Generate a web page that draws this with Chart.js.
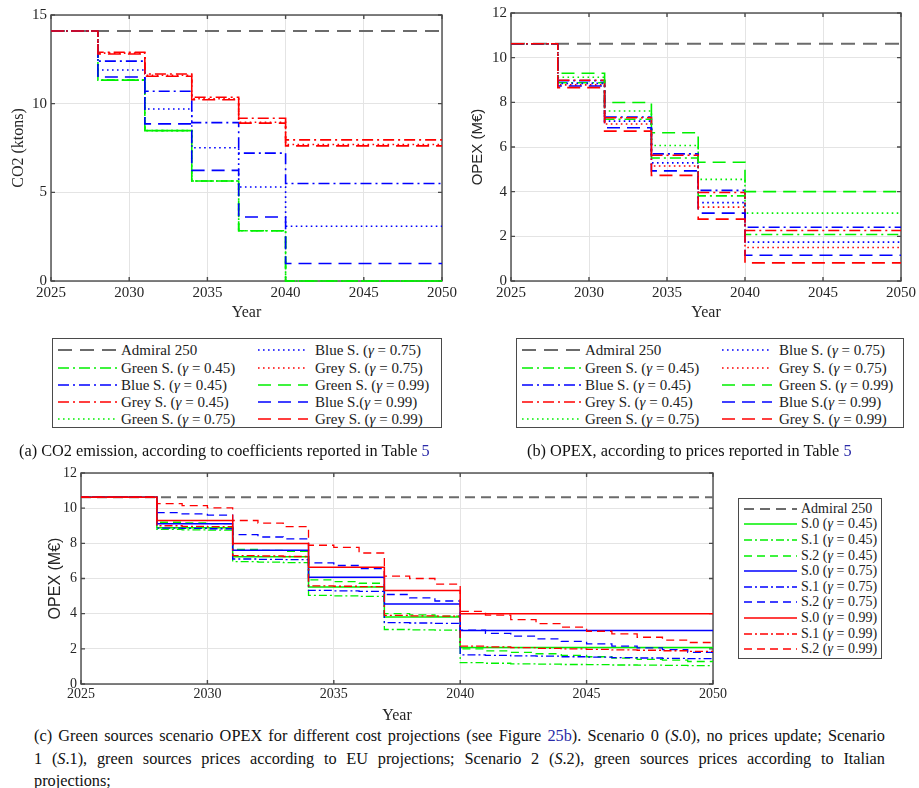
<!DOCTYPE html>
<html><head><meta charset="utf-8">
<script src="https://cdn.jsdelivr.net/npm/chart.js@4.4.0/dist/chart.umd.min.js"></script>
<style>
body{margin:0;background:#fff;width:919px;height:788px;position:relative;overflow:hidden;font-family:"Liberation Serif",serif;color:#111;}
canvas{position:absolute;}
.legend{position:absolute;border:1.3px solid #4a4a4a;background:#fff;box-sizing:border-box;}
.li{position:absolute;font-size:15px;white-space:nowrap;line-height:16px;height:16px;color:#222;}
.sw{position:absolute;}
.cap{position:absolute;font-size:16.3px;white-space:nowrap;color:#111;}
.ref{color:#2a2aa8}
.capl{position:absolute;left:34px;width:851px;font-size:16.3px;text-align:justify;text-align-last:justify;white-space:nowrap;color:#111;}
</style></head>
<body>
<canvas id="ca" width="460" height="322" style="left:0;top:0"></canvas>
<canvas id="cb" width="459" height="322" style="left:460px;top:0"></canvas>
<canvas id="cc" width="730" height="270" style="left:0;top:455px"></canvas>
<div class="cap" style="left:19px;top:441px">(a) CO2 emission, according to coefficients reported in Table <span class="ref">5</span></div>
<div class="cap" style="left:527px;top:441px">(b) OPEX, according to prices reported in Table <span class="ref">5</span></div>
<div class="capl" style="top:726px">(c) Green sources scenario OPEX for different cost projections (see Figure <span class="ref">25b</span>). Scenario 0 (<i>S</i>.0), no prices update; Scenario</div>
<div class="capl" style="top:749px">1 (<i>S</i>.1), green sources prices according to EU projections; Scenario 2 (<i>S</i>.2), green sources prices according to Italian</div>
<div class="cap" style="left:34px;top:771px">projections;</div>
<script>
// ---------- DATA ----------
const stepYears = [2025, 2028, 2031, 2034, 2037, 2040, 2050];
const years = [2025,2026,2027,2028,2029,2030,2031,2032,2033,2034,2035,2036,2037,2038,2039,2040,2041,2042,2043,2044,2045,2046,2047,2048,2049,2050];
const xTickLabels = ['2025','2030','2035','2040','2045','2050'];

// (a) CO2 (ktons)
const co2Admiral = [14.1, 14.1, 14.1, 14.1, 14.1, 14.1, 14.1];
const co2Green45 = [14.1, 11.33, 8.48, 5.64, 2.83, 0, 0];
const co2Blue45  = [14.1, 12.4, 10.7, 8.93, 7.21, 5.5, 5.5];
const co2Grey45  = [14.1, 12.9, 11.67, 10.36, 9.18, 7.96, 7.96];
const co2Green75 = [14.1, 11.33, 8.48, 5.64, 2.83, 0, 0];
const co2Blue75  = [14.1, 11.9, 9.7, 7.51, 5.3, 3.09, 3.09];
const co2Grey75  = [14.1, 12.85, 11.6, 10.28, 8.95, 7.7, 7.7];
const co2Green99 = [14.1, 11.33, 8.48, 5.64, 2.83, 0, 0];
const co2Blue99  = [14.1, 11.5, 8.86, 6.24, 3.61, 0.99, 0.99];
const co2Grey99  = [14.1, 12.8, 11.55, 10.22, 8.9, 7.62, 7.62];

// (b) OPEX (M€)
const opexAdmiral = [10.62, 10.62, 10.62, 10.62, 10.62, 10.62, 10.62];
const opexGreen45 = [10.62, 8.88, 7.24, 5.51, 3.81, 2.08, 2.08];
const opexBlue45  = [10.62, 8.97, 7.34, 5.69, 4.06, 2.41, 2.41];
const opexGrey45  = [10.62, 8.99, 7.31, 5.63, 3.96, 2.26, 2.26];
const opexGreen75 = [10.62, 9.12, 7.61, 6.07, 4.55, 3.04, 3.04];
const opexBlue75  = [10.62, 8.85, 7.16, 5.29, 3.51, 1.74, 1.74];
const opexGrey75  = [10.62, 8.78, 7.03, 5.15, 3.31, 1.5, 1.5];
const opexGreen99 = [10.62, 9.3, 7.99, 6.64, 5.32, 4.0, 4.0];
const opexBlue99  = [10.62, 8.73, 6.86, 4.93, 3.04, 1.15, 1.15];
const opexGrey99  = [10.62, 8.66, 6.71, 4.73, 2.77, 0.81, 0.81];

// (c) green sources scenarios, yearly values
const s1g45 = [10.62,10.62,10.62,8.79,8.77,8.75,6.96,6.93,6.9,5.04,5.01,4.98,3.1,3.08,3.06,1.21,1.18,1.15,1.13,1.11,1.1,1.08,1.07,1.06,1.05,1.05];
const s2g45 = [10.62,10.62,10.62,9.2,9.16,9.12,7.66,7.6,7.55,5.92,5.82,5.73,4.0,3.93,3.86,2.0,1.88,1.8,1.72,1.63,1.55,1.47,1.4,1.36,1.28,1.28];
const s1g75 = [10.62,10.62,10.62,8.87,8.85,8.83,7.11,7.09,7.07,5.32,5.3,5.27,3.49,3.47,3.45,1.66,1.63,1.6,1.58,1.55,1.53,1.5,1.48,1.46,1.44,1.44];
const s2g75 = [10.62,10.62,10.62,9.75,9.68,9.6,8.49,8.36,8.25,6.89,6.74,6.57,5.09,4.9,4.72,3.06,2.88,2.72,2.57,2.42,2.28,2.15,2.05,1.95,1.8,1.8];
const s1g99 = [10.62,10.62,10.62,9.0,8.97,8.95,7.3,7.28,7.25,5.58,5.56,5.54,3.9,3.88,3.86,2.15,2.11,2.07,2.03,2.0,1.97,1.94,1.92,1.89,1.86,1.86];
const s2g99 = [10.62,10.62,10.62,10.26,10.15,10.02,9.3,9.15,8.95,7.89,7.77,7.45,6.13,6.0,5.68,4.13,3.92,3.66,3.43,3.23,3.0,2.85,2.66,2.5,2.36,2.36];

// ---------- STYLES ----------
const GREEN = '#00f000', BLUE = '#0000ff', RED = '#ff0000', GRAY = '#6b6b6b';
const DASH = [13, 7], DASHDOT = [11, 4, 2, 4], DOT = [1.6, 3.4], ADM = [14, 8];
const DASH_C = [8, 5], DASHDOT_C = [8, 3, 2, 3], ADM_C = [10, 6];

function ds(label, xs, ys, color, dash, width) {
  return { label, data: xs.map((x, i) => ({ x, y: ys[i] })), borderColor: color, borderDash: dash,
    borderWidth: width, stepped: true, pointRadius: 0, fill: false, clip: 4, borderCapStyle: 'butt' };
}

const framePlugin = {
  id: 'frame',
  beforeDatasetsDraw(chart) {
    const { ctx, chartArea: a, scales } = chart;
    ctx.save();
    ctx.strokeStyle = '#4a4a4a'; ctx.lineWidth = 1.4; ctx.setLineDash([]);
    ctx.strokeRect(a.left, a.top, a.right - a.left, a.bottom - a.top);
    ctx.beginPath();
    scales.x.ticks.forEach(t => { const p = scales.x.getPixelForValue(t.value);
      ctx.moveTo(p, a.bottom); ctx.lineTo(p, a.bottom - 4); ctx.moveTo(p, a.top); ctx.lineTo(p, a.top + 4); });
    scales.y.ticks.forEach(t => { const p = scales.y.getPixelForValue(t.value);
      ctx.moveTo(a.left, p); ctx.lineTo(a.left + 4, p); ctx.moveTo(a.right, p); ctx.lineTo(a.right - 4, p); });
    ctx.stroke(); ctx.restore();
  }
};

function makeChart(id, datasets, o) {
  datasets.forEach((d, i) => d.order = -i);
  return new Chart(document.getElementById(id), {
    type: 'line',
    data: { datasets },
    plugins: [framePlugin],
    options: {
      responsive: false, animation: false, devicePixelRatio: 1,
      layout: { padding: { left: 0, right: o.padR, top: o.padT, bottom: 0 } },
      plugins: { legend: { display: false }, tooltip: { enabled: false } },
      scales: {
        x: { type: 'linear', min: 2025, max: 2050,
          afterFit: s => { s.height = o.xH; },
          afterBuildTicks: s => { s.ticks = xTickLabels.map(v => ({ value: Number(v) })); },
          ticks: { autoSkip: false, maxRotation: 0, padding: o.xTickPad, color: '#262626',
            font: { family: 'Liberation Serif', size: o.tickSize }, callback: v => String(v) },
          grid: { color: '#e4e4e4', lineWidth: 1, drawTicks: false },
          border: { display: false },
          title: { display: true, text: 'Year', color: '#262626', font: { family: 'Liberation Serif', size: 16 },
            padding: { top: o.xTitlePad, bottom: 0 } } },
        y: { min: 0, max: o.yMax,
          afterFit: s => { s.width = o.yW; },
          ticks: { stepSize: o.yStep, padding: 4, color: '#262626',
            font: { family: 'Liberation Serif', size: o.tickSize }, callback: v => String(v) },
          grid: { color: '#e4e4e4', lineWidth: 1, drawTicks: false },
          border: { display: false },
          title: { display: true, text: o.yTitle, color: '#262626', font: o.yTitleFont,
            padding: { top: o.yTitlePad, bottom: 0 } } }
      }
    }
  });
}

// ---------- CHART (a) ----------
const dsA = [
  ds('Admiral 250', stepYears, co2Admiral, GRAY, ADM, 2),
  ds('Green S. (γ = 0.45)', stepYears, co2Green45, GREEN, DASHDOT, 1.6),
  ds('Blue S. (γ = 0.45)', stepYears, co2Blue45, BLUE, DASHDOT, 1.6),
  ds('Grey S. (γ = 0.45)', stepYears, co2Grey45, RED, DASHDOT, 1.6),
  ds('Green S. (γ = 0.75)', stepYears, co2Green75, GREEN, DOT, 1.6),
  ds('Blue S. (γ = 0.75)', stepYears, co2Blue75, BLUE, DOT, 1.6),
  ds('Grey S. (γ = 0.75)', stepYears, co2Grey75, RED, DOT, 1.6),
  ds('Green S. (γ = 0.99)', stepYears, co2Green99, GREEN, DASH, 1.6),
  ds('Blue S.(γ = 0.99)', stepYears, co2Blue99, BLUE, DASH, 1.6),
  ds('Grey S. (γ = 0.99)', stepYears, co2Grey99, RED, DASH, 1.6)
];
makeChart('ca', dsA, { padR: 18, padT: 15, xH: 41, yW: 51, yMax: 15, yStep: 5, tickSize: 15, xTickPad: 3, xTitlePad: 1,
  yTitle: 'CO2 (ktons)', yTitleFont: { family: 'Liberation Serif', size: 16 }, yTitlePad: 9 });

// ---------- CHART (b) ----------
const dsB = [
  ds('Admiral 250', stepYears, opexAdmiral, GRAY, ADM, 2),
  ds('Green S. (γ = 0.45)', stepYears, opexGreen45, GREEN, DASHDOT, 1.6),
  ds('Blue S. (γ = 0.45)', stepYears, opexBlue45, BLUE, DASHDOT, 1.6),
  ds('Grey S. (γ = 0.45)', stepYears, opexGrey45, RED, DASHDOT, 1.6),
  ds('Green S. (γ = 0.75)', stepYears, opexGreen75, GREEN, DOT, 1.6),
  ds('Blue S. (γ = 0.75)', stepYears, opexBlue75, BLUE, DOT, 1.6),
  ds('Grey S. (γ = 0.75)', stepYears, opexGrey75, RED, DOT, 1.6),
  ds('Green S. (γ = 0.99)', stepYears, opexGreen99, GREEN, DASH, 1.6),
  ds('Blue S.(γ = 0.99)', stepYears, opexBlue99, BLUE, DASH, 1.6),
  ds('Grey S. (γ = 0.99)', stepYears, opexGrey99, RED, DASH, 1.6)
];
makeChart('cb', dsB, { padR: 15, padT: 13, xH: 41, yW: 51, yMax: 12, yStep: 2, tickSize: 15, xTickPad: 3, xTitlePad: 1,
  yTitle: 'OPEX (M€)', yTitleFont: { family: 'Liberation Sans', size: 15 }, yTitlePad: 9 });

// ---------- CHART (c) ----------
const dsC = [
  ds('Admiral 250', stepYears, opexAdmiral, GRAY, ADM_C, 1.8),
  ds('S.0 (γ = 0.45)', stepYears, opexGreen45, GREEN, [], 1.5),
  ds('S.1 (γ = 0.45)', years, s1g45, GREEN, DASHDOT_C, 1.3),
  ds('S.2 (γ = 0.45)', years, s2g45, GREEN, DASH_C, 1.3),
  ds('S.0 (γ = 0.75)', stepYears, opexGreen75, BLUE, [], 1.5),
  ds('S.1 (γ = 0.75)', years, s1g75, BLUE, DASHDOT_C, 1.3),
  ds('S.2 (γ = 0.75)', years, s2g75, BLUE, DASH_C, 1.3),
  ds('S.0 (γ = 0.99)', stepYears, opexGreen99, RED, [], 1.5),
  ds('S.1 (γ = 0.99)', years, s1g99, RED, DASHDOT_C, 1.3),
  ds('S.2 (γ = 0.99)', years, s2g99, RED, DASH_C, 1.3)
];
makeChart('cc', dsC, { padR: 17, padT: 18, xH: 41, yW: 81, yMax: 12, yStep: 2, tickSize: 14, xTickPad: 2, xTitlePad: 3,
  yTitle: 'OPEX (M€)', yTitleFont: { family: 'Liberation Sans', size: 16 }, yTitlePad: 46 });

// ---------- LEGENDS (built from the dataset styles) ----------
function fmt(label) { return label.replace('γ', '<i>γ</i>'); }
function legend(box, dsets, place) {
  const div = document.createElement('div');
  div.className = 'legend';
  Object.assign(div.style, { left: box.left + 'px', top: box.top + 'px', width: box.w + 'px', height: box.h + 'px' });
  dsets.forEach((d, i) => {
    const p = place(i);
    const sw = document.createElementNS('http://www.w3.org/2000/svg', 'svg');
    sw.setAttribute('class', 'sw'); sw.setAttribute('width', p.len); sw.setAttribute('height', 6);
    sw.style.left = p.s + 'px'; sw.style.top = (p.y - 3) + 'px';
    const ln = document.createElementNS('http://www.w3.org/2000/svg', 'line');
    ln.setAttribute('x1', 0); ln.setAttribute('x2', p.len); ln.setAttribute('y1', 3); ln.setAttribute('y2', 3);
    ln.setAttribute('stroke', d.borderColor); ln.setAttribute('stroke-width', d.borderWidth);
    if (d.borderDash.length) ln.setAttribute('stroke-dasharray', d.borderDash.join(' '));
    sw.appendChild(ln); div.appendChild(sw);
    const t = document.createElement('div');
    t.className = 'li'; t.innerHTML = fmt(d.label);
    t.style.left = p.t + 'px'; t.style.top = (p.y - 8) + 'px';
    if (p.fs) t.style.fontSize = p.fs + 'px';
    div.appendChild(t);
  });
  document.body.appendChild(div);
}
const rowsAB = [11, 29, 46, 63, 80];
const placeAB = i => i < 5 ? { s: 5, len: 59, t: 68, y: rowsAB[i] } : { s: 205, len: 50, t: 262, y: rowsAB[i - 5] };
legend({ left: 52, top: 338, w: 390, h: 90 }, dsA, placeAB);
legend({ left: 516, top: 338, w: 388, h: 90 }, dsB, placeAB);
legend({ left: 738, top: 498, w: 144, h: 161 }, dsC, i => ({ s: 5, len: 53, t: 62, y: 9.7 + 15.6 * i, fs: 14 }));
</script>
</body></html>
